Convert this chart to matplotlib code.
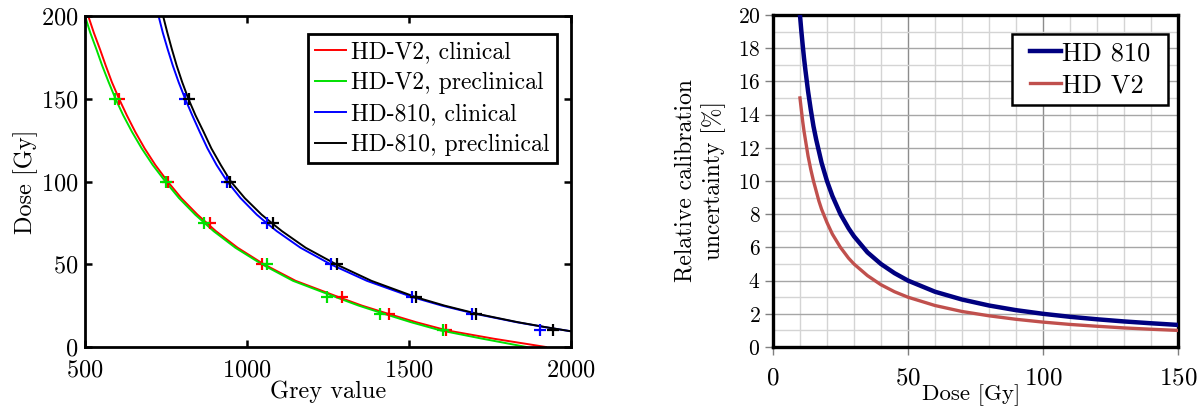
import matplotlib
matplotlib.use("Agg")
import matplotlib.pyplot as plt
from matplotlib.patches import Rectangle
from matplotlib.ticker import MultipleLocator

plt.rcParams["font.family"] = ["cmr10", "DejaVu Serif"]
plt.rcParams["axes.formatter.use_mathtext"] = True

# ---- left panel: calibration curves (grey value -> dose) ----
dose_marks = [150, 100, 75, 50, 30, 20, 10]
v2_clin_marks = [605, 755, 886, 1045, 1292, 1439, 1614]
v2_pre_marks = [591, 749, 867, 1061, 1248, 1410, 1606]
h810_clin_marks = [809, 937, 1061, 1258, 1508, 1693, 1904]
h810_pre_marks = [822, 949, 1079, 1277, 1521, 1707, 1944]

v2_dose = [200, 190, 180, 170, 160, 150, 140, 130, 120, 110, 100, 90, 80, 70,
           60, 50, 40, 30, 25, 20, 15, 10, 5, 0]
v2_clin_grey = [510, 527, 546, 564, 583, 605, 629, 655, 684, 717, 755, 797, 847, 904,
                971, 1052, 1150, 1285, 1355, 1437, 1522, 1618, 1762, 1923]
v2_pre_grey = [500, 516, 535, 553, 573, 594, 618, 645, 675, 709, 748, 790, 840, 897,
               964, 1046, 1142, 1276, 1345, 1424, 1506, 1598, 1727, 1863]

h810_dose = [200, 190, 180, 170, 160, 150, 140, 130, 120, 110, 100, 90, 80, 75, 70,
             60, 50, 40, 30, 25, 20, 15, 12, 9.5]
h810_clin_grey = [727, 740, 755, 771, 789, 809, 831, 854, 878, 906, 939, 980, 1030, 1060, 1092,
                  1165, 1258, 1370, 1513, 1602, 1706, 1832, 1920, 2000]
h810_pre_grey = [741, 754, 768, 783, 800, 819, 841, 866, 890, 919, 950, 993, 1045, 1076, 1108,
                 1181, 1275, 1384, 1523, 1610, 1712, 1836, 1922, 2000]

# ---- right panel: relative calibration uncertainty ----
unc_dose = [10, 10.5, 11, 11.5, 12, 13, 14, 15, 16, 17, 18, 20, 22, 25, 28, 30, 35, 40,
            45, 50, 60, 70, 80, 90, 100, 110, 120, 130, 140, 150]
unc_810 = [20, 19.05, 18.2, 17.4, 16.7, 15.4, 14.3, 13.3, 12.5, 11.8, 11.1, 10, 9.1, 8,
           7.15, 6.67, 5.7, 5, 4.45, 4, 3.33, 2.86, 2.5, 2.22, 2.0, 1.82, 1.67, 1.54, 1.43, 1.33]
unc_v2 = [15, 14.3, 13.6, 13.0, 12.5, 11.5, 10.7, 10, 9.4, 8.8, 8.3, 7.5, 6.8, 6,
          5.35, 5, 4.3, 3.75, 3.33, 3, 2.5, 2.14, 1.88, 1.67, 1.5, 1.36, 1.25, 1.15, 1.07, 1.0]

fig = plt.figure(figsize=(12.01, 4.11), dpi=100)
ax1 = fig.add_axes([0.0708, 0.1557, 0.4046, 0.8053])
ax2 = fig.add_axes([0.6436, 0.1557, 0.3372, 0.808])

# left
series = [
    (v2_clin_grey, v2_dose, v2_clin_marks, "red", "HD-V2, clinical"),
    (v2_pre_grey, v2_dose, v2_pre_marks, "#00e000", "HD-V2, preclinical"),
    (h810_clin_grey, h810_dose, h810_clin_marks, "blue", "HD-810, clinical"),
    (h810_pre_grey, h810_dose, h810_pre_marks, "black", "HD-810, preclinical"),
]
for grey, dose, marks, col, lab in series:
    ax1.plot(grey, dose, color=col, lw=1.4, label=lab)
for grey, dose, marks, col, lab in series:
    ax1.plot(marks, dose_marks, "+", color=col, ms=9, mew=1.6)

ax1.set_xlim(500, 2000)
ax1.set_ylim(0, 200)
ax1.set_xticks([500, 1000, 1500, 2000])
ax1.set_yticks([0, 50, 100, 150, 200])
ax1.tick_params(direction="in", length=5, width=1.8, top=True, right=True,
                labelsize=17.5)
ax1.tick_params(axis="x", pad=9)
ax1.tick_params(axis="y", pad=5)
for s in ax1.spines.values():
    s.set_linewidth(2.0)
ax1.set_xlabel("Grey value", fontsize=17.5, labelpad=-1)
ax1.set_ylabel("Dose [Gy]", fontsize=17.5, labelpad=2)
leg1 = ax1.legend(loc="upper right", fontsize=17, handlelength=1.3,
                  handletextpad=0.25, labelspacing=0.38, borderpad=0.3,
                  borderaxespad=0, fancybox=False, framealpha=1,
                  edgecolor="black", bbox_to_anchor=(0.971, 0.946))
leg1.get_frame().set_linewidth(2.0)

# right
ax2.plot(unc_dose, unc_810, color="#000080", lw=3.2, label="HD 810", zorder=3)
ax2.plot(unc_dose, unc_v2, color="#c0504d", lw=2.4, label="HD V2", zorder=3)
ax2.set_xlim(0, 150)
ax2.set_ylim(0, 20)
ax2.xaxis.set_major_locator(MultipleLocator(50))
ax2.xaxis.set_minor_locator(MultipleLocator(10))
ax2.yaxis.set_major_locator(MultipleLocator(2))
ax2.yaxis.set_minor_locator(MultipleLocator(1))
ax2.grid(which="major", axis="x", color="#8c8c8c", lw=1.0)
ax2.grid(which="minor", axis="x", color="#d4d4d4", lw=1.0)
ax2.grid(which="major", axis="y", color="#a6a6a6", lw=1.0)
ax2.grid(which="minor", axis="y", color="#d4d4d4", lw=1.0)
ax2.set_axisbelow(True)
ax2.tick_params(which="major", direction="out", length=6, width=1.0, color="#808080")
ax2.tick_params(which="minor", length=0)
ax2.tick_params(axis="x", which="major", labelsize=18, pad=9)
ax2.tick_params(axis="y", which="major", labelsize=15.5, pad=3)
for s in ax2.spines.values():
    s.set_linewidth(2.4)
ax2.set_xlabel("Dose [Gy]", fontsize=16.5, va="center")
ax2.xaxis.set_label_coords(0.49, -0.145)
ax2.set_ylabel("Relative calibration\nuncertainty [%]", fontsize=17,
               linespacing=1.3, labelpad=8)
leg2 = ax2.legend(loc="upper right", fontsize=19, handlelength=1.15,
                  handletextpad=0.05, labelspacing=0.3, borderpad=0.3,
                  borderaxespad=0, frameon=False, bbox_to_anchor=(0.951, 0.943))

# legend box with wider side padding than matplotlib allows
fig.canvas.draw()
bb = leg2.get_window_extent().transformed(fig.transFigure.inverted())
padx = 10 / fig.bbox.width
ax2.add_patch(Rectangle((bb.x0 - padx, bb.y0), bb.width + 2 * padx, bb.height,
                        transform=fig.transFigure, facecolor="white",
                        edgecolor="black", lw=1.8, zorder=4.5, clip_on=False))

fig.savefig("out.png", dpi=100)
